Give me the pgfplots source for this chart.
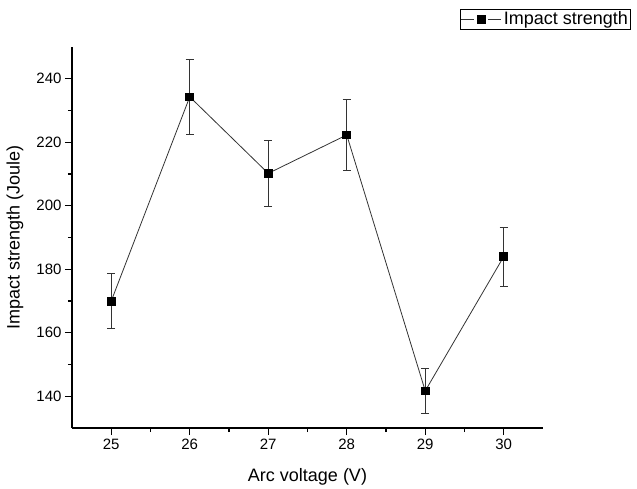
\documentclass[border=0pt]{standalone}
\usepackage{fontspec}
\setmainfont{Liberation Sans}
\usepackage{pgfplots}
\pgfplotsset{compat=1.18}
\begin{document}
\begin{tikzpicture}
\begin{axis}[
 width=471pt, height=381pt, scale only axis,
 xmin=24.5, xmax=30.5, ymin=130, ymax=250,
 axis x line*=bottom, axis y line*=left,
 axis line style={line width=1.4pt, -},
 xtick={25,...,30}, minor x tick num=1,
 ytick={140,160,...,240}, minor y tick num=1,
 tick align=outside,
 major tick length=7pt, minor tick length=4pt,
 every tick/.style={line width=1.2pt, black},
 ticklabel style={font=\fontsize{15}{17}\selectfont},
 /pgf/number format/assume math mode=true,
 xlabel={Arc voltage (V)}, ylabel={Impact strength (Joule)},
 label style={font=\fontsize{18}{20}\selectfont},
 xlabel style={at={(axis description cs:0.5,-0.1278)}, anchor=center},
 ylabel style={at={(axis description cs:-0.121,0.5)}, anchor=center},
 legend style={at={(rel axis cs:0.824,1.0997)}, anchor=north west, draw=black, line width=0.8pt,
   font=\fontsize{18}{20}\selectfont, inner sep=0.5pt},
 legend image code/.code={%
   \draw[mark=none] (-2pt,0pt) -- (11pt,0pt);
   \draw[mark=none] (25pt,0pt) -- (38pt,0pt);
   \draw[only marks] plot coordinates {(18pt,0pt)};},
]
\addplot[black!80, line width=0.8pt, mark=square*, mark size=3.9pt,
  mark options={fill=black, draw=black, solid},
  error bars/.cd, y dir=both, y explicit,
  error bar style={line width=0.9pt, black!80},
  error mark options={rotate=90, mark size=4pt, line width=0.9pt, black!80}]
  coordinates {
  (25,170.0) +- (0,8.6)
  (26,234.3) +- (0,11.7)
  (27,210.2) +- (0,10.5)
  (28,222.3) +- (0,11.2)
  (29,141.7) +- (0,7.1)
  (30,184.0) +- (0,9.3)
  };
\addlegendentry{Impact strength}
\end{axis}
\pgfresetboundingbox
\path[use as bounding box] ([xshift=-72pt,yshift=-60pt]current axis.south west) rectangle ([xshift=565pt,yshift=428pt]current axis.south west);
\end{tikzpicture}
\end{document}
